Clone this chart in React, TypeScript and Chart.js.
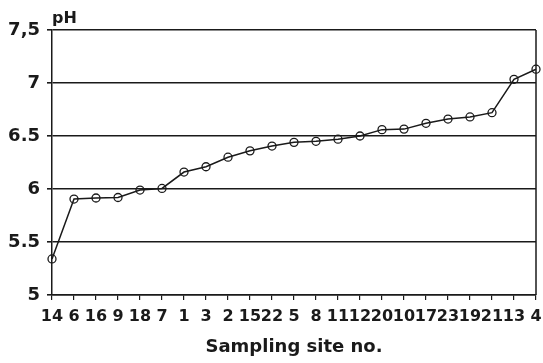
import React, { useEffect, useRef } from "react";
import { Chart, registerables } from "chart.js";

Chart.register(...registerables);

const siteLabels = ["14", "6", "16", "9", "18", "7", "1", "3", "2", "15", "22", "5", "8", "11", "12", "20", "10", "17", "23", "19", "21", "13", "4"];
const phValues = [5.34, 5.905, 5.915, 5.92, 5.99, 6.005, 6.16, 6.21, 6.3, 6.36, 6.405, 6.44, 6.45, 6.47, 6.5, 6.56, 6.565, 6.62, 6.66, 6.68, 6.72, 7.035, 7.13];
const yTickValues = [5, 5.5, 6, 6.5, 7, 7.5];
const yTickLabels = ["5", "5.5", "6", "6.5", "7", "7,5"];
const yTitle = "pH";
const xTitle = "Sampling site no.";

const INK = "#1a1a1a";
const FONT = "'DejaVu Sans', sans-serif";

const framePlugin = {
  id: "frame",
  afterDraw(chart: any) {
    const { ctx, chartArea } = chart;
    ctx.save();
    ctx.strokeStyle = INK;
    ctx.lineWidth = 1.5;
    ctx.beginPath();
    ctx.moveTo(chartArea.right, chartArea.top);
    ctx.lineTo(chartArea.right, chartArea.bottom);
    ctx.stroke();
    ctx.fillStyle = INK;
    ctx.font = "bold 16px " + FONT;
    ctx.textAlign = "left";
    ctx.textBaseline = "alphabetic";
    ctx.fillText(yTitle, chartArea.left, chartArea.top - 7);
    ctx.restore();
  },
};

export default function App() {
  const ref = useRef<HTMLCanvasElement | null>(null);

  useEffect(() => {
    if (!ref.current) return;
    const chart = new Chart(ref.current, {
      type: "line",
      data: {
        labels: siteLabels,
        datasets: [
          {
            data: phValues,
            borderColor: INK,
            borderWidth: 1.5,
            pointRadius: 4,
            pointBorderWidth: 1.3,
            pointBorderColor: INK,
            pointBackgroundColor: "rgba(0,0,0,0)",
            tension: 0,
          },
        ],
      },
      options: {
        responsive: false,
        animation: false,
        layout: { padding: { top: 30, right: 7, left: 0, bottom: 0 } },
        plugins: { legend: { display: false }, tooltip: { enabled: false } },
        scales: {
          x: {
            type: "category",
            offset: false,
            afterFit: (s: any) => {
              s.height = 68;
              s.paddingRight = 0;
              s.paddingLeft = 0;
            },
            grid: {
              drawOnChartArea: false,
              drawTicks: true,
              tickLength: 5,
              color: INK,
              lineWidth: 1.2,
            },
            border: { display: true, color: INK, width: 1.5 },
            ticks: {
              autoSkip: false,
              maxRotation: 0,
              minRotation: 0,
              padding: 7,
              color: INK,
              font: { family: FONT, size: 16, weight: "bold" },
            },
            title: {
              display: true,
              text: xTitle,
              color: INK,
              font: { family: FONT, size: 18, weight: "bold" },
              padding: { top: 0, bottom: 5 },
            },
          },
          y: {
            min: 5,
            max: 7.5,
            afterFit: (s: any) => {
              s.width = 52;
            },
            afterBuildTicks: (s: any) => {
              s.ticks = yTickValues.map((v) => ({ value: v }));
            },
            grid: {
              drawOnChartArea: true,
              drawTicks: true,
              tickLength: 5,
              color: INK,
              lineWidth: 1.6,
            },
            border: { display: true, color: INK, width: 1.5 },
            ticks: {
              padding: 7,
              color: INK,
              font: { family: FONT, size: 18, weight: "bold" },
              callback: (v: any) => {
                const i = yTickValues.indexOf(Number(v));
                return i >= 0 ? yTickLabels[i] : "";
              },
            },
          },
        },
      },
      plugins: [framePlugin],
    });
    return () => chart.destroy();
  }, []);

  return (
    <div style={{ position: "absolute", left: 0, top: 0, width: 543, height: 363, background: "#fff" }}>
      <canvas ref={ref} width={543} height={363} />
    </div>
  );
}
